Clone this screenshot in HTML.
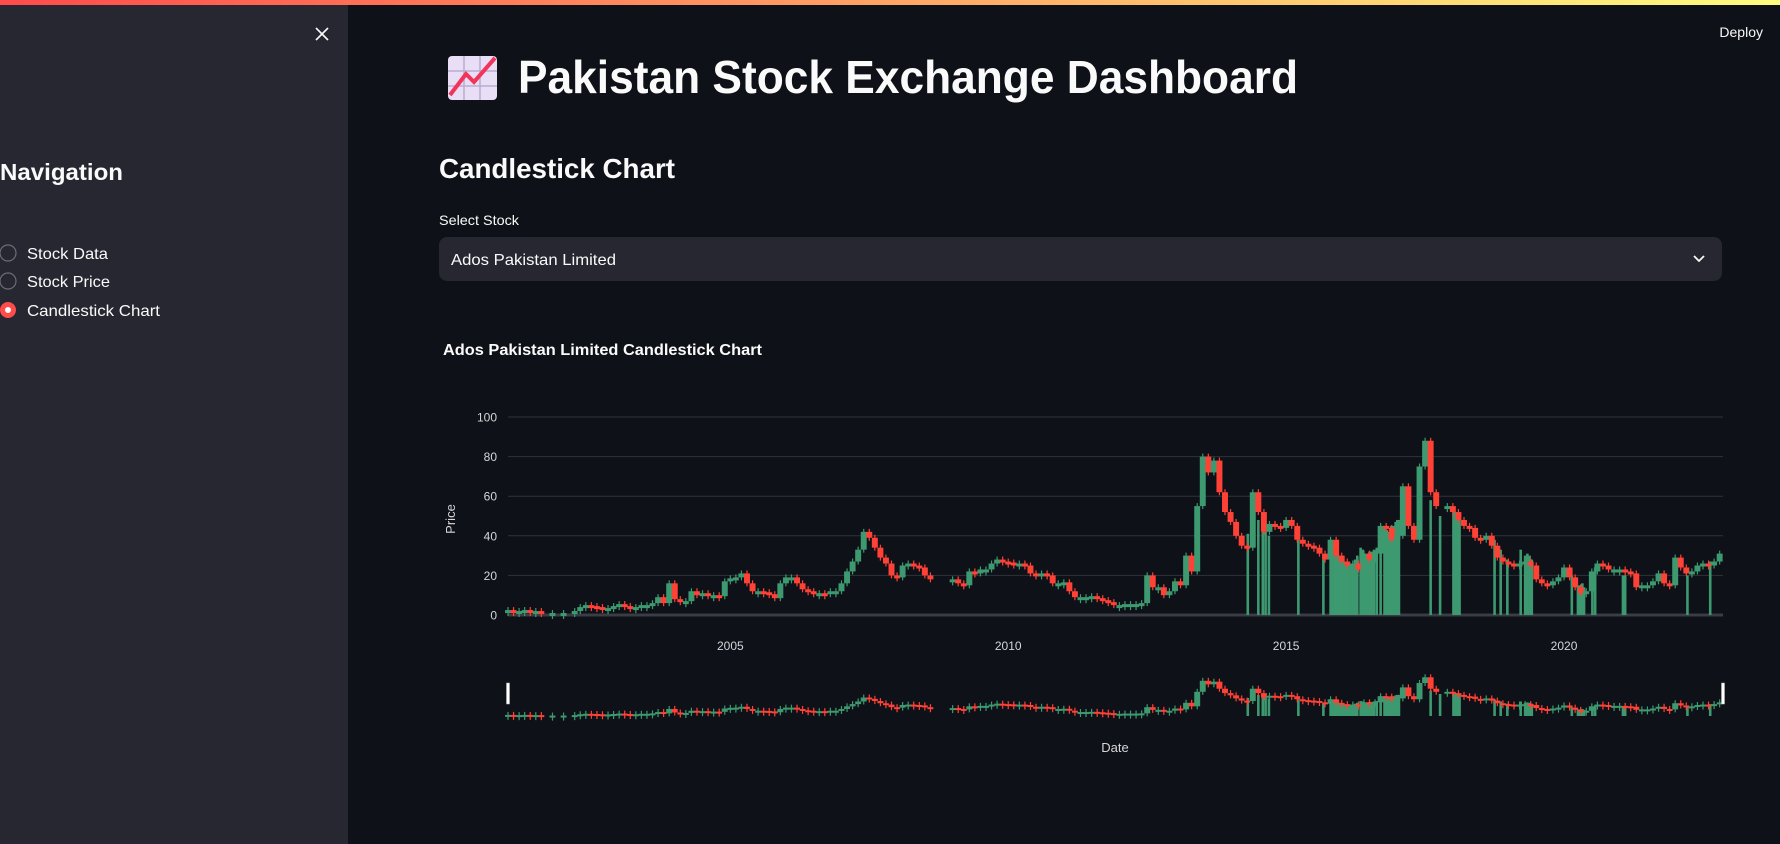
<!DOCTYPE html>
<html><head><meta charset="utf-8"><style>
html,body{margin:0;padding:0;background:#0e1117;width:1780px;height:844px;overflow:hidden}
svg{display:block;font-family:"Liberation Sans",sans-serif}
</style></head><body>
<svg id="page" width="1780" height="844" viewBox="0 0 1780 844">
<defs><linearGradient id="topg" x1="0" x2="1" y1="0" y2="0"><stop offset="0" stop-color="#ff4b4b"/><stop offset="1" stop-color="#fffd80"/></linearGradient></defs>
<rect x="0" y="0" width="1780" height="844" fill="#0e1117"/>
<rect x="0" y="0" width="348" height="844" fill="#262730"/>
<rect x="0" y="0" width="1780" height="5" fill="url(#topg)"/>
<g stroke="#fafafa" stroke-width="1.6"><line x1="316" y1="28" x2="328" y2="40"/><line x1="328" y1="28" x2="316" y2="40"/></g>
<text x="1763" y="37" text-anchor="end" font-size="14" fill="#fafafa">Deploy</text>
<text x="0" y="180" font-size="23" font-weight="bold" fill="#fafafa" textLength="123" lengthAdjust="spacingAndGlyphs">Navigation</text>
<g><circle cx="8" cy="253" r="8" fill="none" stroke="#6b6d76" stroke-width="1.2"/><text x="27" y="259" font-size="16" fill="#fafafa" textLength="81" lengthAdjust="spacingAndGlyphs">Stock Data</text></g>
<g><circle cx="8" cy="281" r="8" fill="none" stroke="#6b6d76" stroke-width="1.2"/><text x="27" y="287" font-size="16" fill="#fafafa" textLength="83" lengthAdjust="spacingAndGlyphs">Stock Price</text></g>
<g><circle cx="8" cy="310" r="8" fill="#ff4b4b"/><circle cx="8" cy="310" r="3" fill="#fff"/><text x="27" y="316" font-size="16" fill="#fafafa" textLength="133" lengthAdjust="spacingAndGlyphs">Candlestick Chart</text></g>
<g>
<rect x="448" y="56" width="49" height="44" rx="4" fill="#e8def5"/>
<path d="M448 71H497M448 86H497M464 56V100M480 56V100" stroke="#b9acd0" stroke-width="1.5"/>
<path d="M450 95L466 74L474 82L495 58" stroke="#f2335b" stroke-width="4" fill="none"/></g>
<text x="518" y="93" font-size="46" font-weight="bold" fill="#fafafa" textLength="780" lengthAdjust="spacingAndGlyphs">Pakistan Stock Exchange Dashboard</text>
<text x="439" y="178" font-size="28" font-weight="bold" fill="#fafafa" textLength="236" lengthAdjust="spacingAndGlyphs">Candlestick Chart</text>
<text x="439" y="225" font-size="14" fill="#fafafa" textLength="80" lengthAdjust="spacingAndGlyphs">Select Stock</text>
<g><rect x="439" y="237" width="1283" height="44" rx="8" fill="#262730"/>
<text x="451" y="265" font-size="16" fill="#fafafa" textLength="165" lengthAdjust="spacingAndGlyphs">Ados Pakistan Limited</text>
<path d="M1694 256L1699 261L1704 256" stroke="#fafafa" stroke-width="1.8" fill="none"/></g>
<text x="443" y="355" font-size="16" font-weight="bold" fill="#fafafa" textLength="319" lengthAdjust="spacingAndGlyphs">Ados Pakistan Limited Candlestick Chart</text>
<g id="chart"></g>
</svg>
<script>
const startYear = 2001.0;
const stepYear = 0.1;
const closes = [
2.5,2,2,2.5,2,2,1.5,null,1,null,
1,null,2,4,5,4.5,4,3.5,3.5,4.5,
5.5,4.5,3.5,4,5,5,6,9,6,16,
8,7,7,12,10,11,10,10,9.5,17,
18.5,19,21,16,12,12,11.5,10.5,8.5,16,
19,19,16,13,12,11,11,10.5,12,12,
16,22,27,33,42,39,34,29,26,20,
19,25,26,25,24,20,18,null,null,null,
18,16,15,22,21,23,23,26,28,27,
26.5,26,26,25,21,20,21,20,16,16,
16.5,12,9,9,9,9.5,8.5,7.5,6.5,5,
5,5.5,5.5,5.5,6,20,14,14,10,12,
17,15,30,22,55,80,72,78,62,52,
47,40,35,34,62,52,42,46,45,44,
48,45,38,36,35,34,31,28,38,30,
27,25,26,23,31,28,31,45,44,38,
40,65,45,38,75,88,62,55,null,55,
52,48,45,44,39,38,40,35,29,27,
26,25,26,27,25,18,16,15,17,19,
24,19,14,11,12,22,26,25,23,23,
23,22,21,14,15,15,17,21,16,15,
29,24,21,22,25,26,25,27,31];
const spikeYears = [2014.31,2014.5,2014.58,2014.63,2014.69,2015.22,2015.67,
2015.8,2015.84,2015.88,2015.92,2015.96,2016.0,2016.04,2016.08,2016.12,2016.16,2016.2,2016.24,2016.28,
2016.34,2016.38,2016.42,2016.46,2016.5,2016.54,2016.58,2016.63,2016.7,
2016.77,2016.81,2016.85,2016.89,2016.93,2016.97,2017.0,2017.03,
2017.6,2017.77,2018.01,2018.05,2018.09,2018.12,2018.75,2018.86,2018.98,2019.22,2019.3,2019.34,2019.38,2019.42,
2020.14,2020.25,2020.29,2020.33,2020.36,2020.51,2020.56,2021.06,2021.1,2022.22,2022.63];
const spikeTops = [41,48,42,42,40,38,28,
38,36,33,32,30,29,27,26,25,25,26,28,30,
34,33,31,31,32,32,33,34,45,
45,43,42,45,45,47,48,48,
58,50,52,52,50,50,38,33,28,33,30,31,30,28,
20,15,15,16,14,20,24,20,20,20,27];
const yTicks = [0,20,40,60,80,100];
const xTicks = [2005,2010,2015,2020];

const NS='http://www.w3.org/2000/svg';
const chart=document.getElementById('chart');
const X0=508,X1=1723,YR0=2001.0,YR1=2022.86;
const xs=y=>X0+(y-YR0)/(YR1-YR0)*(X1-X0);
const ys=v=>615-v*1.98;
const ysr=v=>716-v*0.44;
function mk(tag,attrs){const e=document.createElementNS(NS,tag);for(const k in attrs)e.setAttribute(k,attrs[k]);chart.appendChild(e);return e;}
yTicks.forEach(t=>{
  const l=mk('line',{x1:X0,x2:X1,y1:ys(t),y2:ys(t),stroke:t===0?'#3a3c46':'#30323b','stroke-width':t===0?3:1});
  
  
  const tx=mk('text',{x:497,y:ys(t)+4.5,'text-anchor':'end','font-size':12,fill:'#d6d6d9'});
  tx.textContent=t;
  
  
});
xTicks.forEach(t=>{
  const tx=mk('text',{x:xs(t),y:650,'text-anchor':'middle','font-size':12,fill:'#d6d6d9'});
  tx.textContent=t;
  
  
});
const pl=mk('text',{x:0,y:0,'text-anchor':'middle','font-size':13,fill:'#d6d6d9',transform:'translate(455,519) rotate(-90)'});
pl.textContent='Price';


const dl=mk('text',{x:1115,y:752,'text-anchor':'middle','font-size':13,fill:'#d6d6d9'});
dl.textContent='Date';


function drawSeries(yf,minH,w,nm){
  spikeYears.forEach((yr,i)=>{
    const r=mk('rect',{x:xs(yr)-1.3,y:yf(spikeTops[i]),width:2.6,height:yf(0)-yf(spikeTops[i]),fill:'#3d9970'});
    
    
  });
  closes.forEach((c,i)=>{
    if(c===null)return;
    const o=(i>0&&closes[i-1]!==null)?closes[i-1]:c;
    const yr=startYear+i*stepYear;
    const top=Math.min(yf(o),yf(c)),h=Math.max(minH,Math.abs(yf(o)-yf(c)));
    const col=c>=o?'#3d9970':'#ff4136';
    const wk=mk('rect',{x:xs(yr)-0.6,y:top-3,width:1.2,height:h+6,fill:col});
    
    
    const r=mk('rect',{x:xs(yr)-w/2,y:top,width:w,height:h,fill:col});
    
    
  });
}
const stepPx=xs(startYear+stepYear)-xs(startYear);
drawSeries(ys,3,stepPx+0.4,'main');
drawSeries(ysr,2,stepPx+0.4,'rangeslider');
[X0,X1].forEach(x=>{
  const h=mk('rect',{x:x-1.5,y:683,width:3,height:21,fill:'#ffffff',stroke:'#bbb','stroke-width':0.5});
  
  
});
</script>
</body></html>
